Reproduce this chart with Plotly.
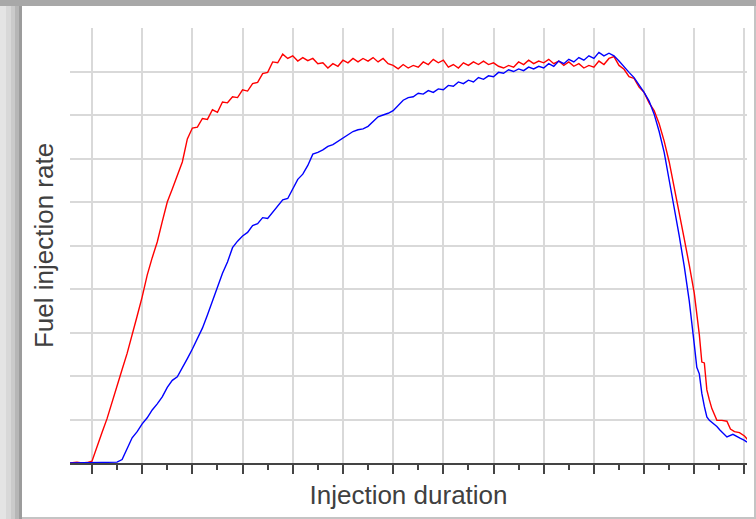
import plotly.graph_objects as go

# Red series (injection duration in grid units, rate in grid units)
red_x = [-0.44, -0.3, -0.2, -0.1, 0.0, 0.1, 0.2, 0.3, 0.4, 0.5, 0.6, 0.7, 0.8, 0.9, 1.0, 1.1, 1.2, 1.3, 1.4, 1.5, 1.6, 1.7, 1.8,
         1.9, 2.0, 2.1, 2.2, 2.3, 2.4, 2.5, 2.6, 2.7, 2.8, 2.9, 3.0, 3.1, 3.2, 3.3, 3.4, 3.5, 3.6, 3.7, 3.8, 3.9,
         4.0, 4.1, 4.2, 4.3, 4.4, 4.5, 4.6, 4.7, 4.8, 4.9, 5.0, 5.1, 5.2, 5.3, 5.4, 5.5, 5.6, 5.7, 5.8, 5.9,
         6.0, 6.1, 6.2, 6.3, 6.4, 6.5, 6.6, 6.7, 6.8, 6.9, 7.0, 7.1, 7.2, 7.3, 7.4, 7.5, 7.6, 7.7, 7.8, 7.9,
         8.0, 8.1, 8.2, 8.3, 8.4, 8.5, 8.6, 8.7, 8.8, 8.9, 9.0, 9.1, 9.2, 9.3, 9.4, 9.5, 9.6, 9.7, 9.8, 9.9,
         10.0, 10.1, 10.2, 10.3, 10.4, 10.5, 10.6, 10.7, 10.8, 10.9, 11.0, 11.1, 11.2, 11.3, 11.4, 11.5, 11.6,
         11.7, 11.8, 11.9, 12.0, 12.1, 12.15, 12.2, 12.25, 12.3, 12.35, 12.45, 12.55, 12.65, 12.72, 12.8, 12.9,
         13.0, 13.07]
red_y = [0.0, 0.02, 0.0, 0.01, 0.04, 0.35, 0.70, 1.02, 1.38, 1.75, 2.15, 2.52, 2.92, 3.38, 3.82, 4.32, 4.72, 5.08, 5.55, 6.00, 6.30, 6.60, 6.92,
         7.45, 7.70, 7.72, 7.92, 7.90, 8.12, 8.06, 8.30, 8.28, 8.42, 8.40, 8.58, 8.55, 8.72, 8.75, 8.95, 8.98, 9.22, 9.20, 9.40, 9.30,
         9.36, 9.24, 9.32, 9.25, 9.30, 9.18, 9.20, 9.08, 9.18, 9.12, 9.26, 9.20, 9.30, 9.22, 9.30, 9.24, 9.32, 9.22, 9.30, 9.18,
         9.14, 9.06, 9.16, 9.08, 9.14, 9.10, 9.22, 9.16, 9.28, 9.20, 9.26, 9.10, 9.16, 9.08, 9.20, 9.14, 9.22, 9.16, 9.24, 9.16,
         9.20, 9.12, 9.08, 9.14, 9.10, 9.22, 9.16, 9.26, 9.18, 9.24, 9.20, 9.28, 9.18, 9.24, 9.14, 9.22, 9.12, 9.18, 9.08, 9.14,
         9.10, 9.24, 9.16, 9.30, 9.34, 9.14, 9.05, 8.88, 8.84, 8.64, 8.52, 8.28, 8.10, 7.80, 7.40, 6.92, 6.30,
         5.75, 5.15, 4.55, 3.90, 2.95, 2.32, 2.30, 1.68, 1.45, 1.25, 0.98, 0.98, 0.96, 0.78, 0.72, 0.70,
         0.62, 0.53]

# Blue series
blue_x = [-0.44, 0.0, 0.3, 0.5, 0.6, 0.7, 0.8, 0.9, 1.0, 1.1, 1.2, 1.3, 1.4, 1.5, 1.6, 1.7, 1.8, 1.9, 2.0, 2.1, 2.2, 2.3,
          2.4, 2.5, 2.6, 2.7, 2.8, 2.9, 3.0, 3.1, 3.2, 3.3, 3.4, 3.5, 3.6, 3.7, 3.8, 3.9, 4.0, 4.1, 4.2, 4.3, 4.4,
          4.5, 4.6, 4.7, 4.8, 4.9, 5.0, 5.1, 5.2, 5.3, 5.4, 5.5, 5.6, 5.7, 5.8, 5.9, 6.0, 6.1, 6.2, 6.3, 6.4,
          6.5, 6.6, 6.7, 6.8, 6.9, 7.0, 7.1, 7.2, 7.3, 7.4, 7.5, 7.6, 7.7, 7.8, 7.9, 8.0, 8.1, 8.2, 8.3, 8.4,
          8.5, 8.6, 8.7, 8.8, 8.9, 9.0, 9.1, 9.2, 9.3, 9.4, 9.5, 9.6, 9.7, 9.8, 9.9, 10.0, 10.1, 10.2, 10.3,
          10.4, 10.5, 10.6, 10.7, 10.8, 10.9, 11.0, 11.1, 11.2, 11.3, 11.4, 11.5, 11.6, 11.7, 11.8, 11.9, 12.0,
          12.05, 12.1, 12.15, 12.2, 12.25, 12.3, 12.37, 12.45, 12.51, 12.6, 12.65, 12.77, 12.85, 12.91, 13.0, 13.05]
blue_y = [0.0, 0.01, 0.0, 0.02, 0.08, 0.35, 0.58, 0.72, 0.90, 1.04, 1.22, 1.36, 1.52, 1.74, 1.90, 1.98, 2.18, 2.40, 2.62, 2.86, 3.10, 3.40,
          3.72, 4.02, 4.36, 4.62, 4.95, 5.10, 5.22, 5.30, 5.46, 5.50, 5.64, 5.62, 5.76, 5.90, 6.05, 6.08, 6.30, 6.52, 6.64, 6.84, 7.10,
          7.14, 7.20, 7.28, 7.32, 7.40, 7.46, 7.56, 7.62, 7.66, 7.68, 7.74, 7.84, 7.96, 8.00, 8.04, 8.10, 8.22, 8.34, 8.40, 8.42,
          8.50, 8.48, 8.56, 8.52, 8.60, 8.58, 8.68, 8.66, 8.76, 8.72, 8.80, 8.76, 8.86, 8.82, 8.90, 8.88, 8.98, 8.96, 9.04, 9.00,
          9.06, 9.02, 9.10, 9.06, 9.12, 9.08, 9.18, 9.12, 9.24, 9.18, 9.28, 9.22, 9.32, 9.26, 9.36, 9.30, 9.44, 9.36, 9.42,
          9.36, 9.24, 9.10, 8.98, 8.86, 8.70, 8.52, 8.32, 8.02, 7.62, 7.14, 6.50, 5.88, 5.22, 4.52, 3.72, 2.72,
          2.20, 2.05, 1.60, 1.30, 1.06, 0.98, 0.92, 0.84, 0.76, 0.66, 0.60, 0.66, 0.60, 0.57, 0.52, 0.48]

x_title = "Injection duration"
y_title = "Fuel injection rate"

W, H = 756, 519
L, R, T, B = 70, 9, 28, 56
pw, ph = W - L - R, H - T - B


def px(xp):
    return (xp - L) / pw


def py(yp):
    return (H - B - yp) / ph


fig = go.Figure()
fig.add_trace(go.Scatter(x=red_x, y=red_y, mode="lines", line=dict(color="#ff0000", width=1.4), showlegend=False))
fig.add_trace(go.Scatter(x=blue_x, y=blue_y, mode="lines", line=dict(color="#0000ff", width=1.4), showlegend=False))

shapes = []
# white panel
shapes.append(dict(type="rect", xref="paper", yref="paper", x0=px(22), x1=px(754), y0=py(517), y1=py(6),
                   fillcolor="white", line=dict(width=0), layer="below"))
# left gradient strips
for a, b, c in [(0, 6, "#e4e4e4"), (6, 11, "#d8d8d8"), (11, 15, "#cacaca"), (15, 19, "#b6b6b6"), (19, 22, "#9c9c9c")]:
    shapes.append(dict(type="rect", xref="paper", yref="paper", x0=px(a), x1=px(b), y0=py(519), y1=py(6),
                       fillcolor=c, line=dict(width=0), layer="below"))
# top band
shapes.append(dict(type="rect", xref="paper", yref="paper", x0=px(0), x1=px(756), y0=py(6), y1=py(0),
                   fillcolor="#a8a8a8", line=dict(width=0), layer="below"))

fig.update_layout(
    width=W, height=H, autosize=False,
    margin=dict(l=L, r=R, t=T, b=B),
    paper_bgcolor="#c4c4c4", plot_bgcolor="white",
    font=dict(family="Liberation Sans, Arial, sans-serif", size=26, color="#404040"),
    shapes=shapes,
    xaxis=dict(range=[-0.438, 13.05], tick0=0, dtick=1, showgrid=True, gridcolor="#d9d9d9", gridwidth=2,
               zeroline=False, showticklabels=False, ticks="outside", ticklen=9, tickwidth=2, tickcolor="#444444",
               showline=True, linecolor="#444444", linewidth=2,
               minor=dict(ticks="outside", ticklen=5, tickwidth=2, tickcolor="#444444", dtick=0.5, tick0=0, showgrid=False),
               title=dict(text=x_title, standoff=13, font=dict(size=26, color="#404040"))),
    yaxis=dict(range=[0, 10], dtick=1, showgrid=True, gridcolor="#d9d9d9", gridwidth=2, zeroline=False,
               showticklabels=False, ticks="", showline=False,
               title=dict(text=y_title, standoff=7, font=dict(size=26, color="#404040"))),
)

fig.write_html("out.html")
